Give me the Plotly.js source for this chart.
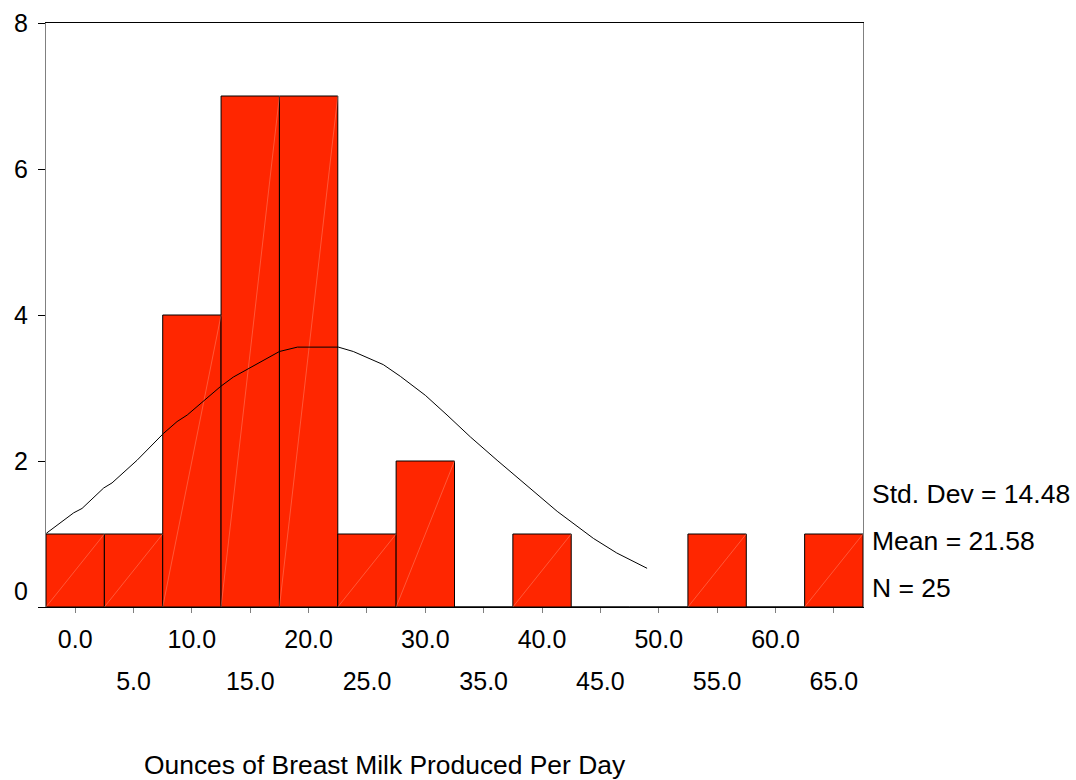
<!DOCTYPE html>
<html>
<head>
<meta charset="utf-8">
<script src="https://cdn.plot.ly/plotly-3.0.1.min.js"></script>
<style>html,body{margin:0;padding:0;background:#fff;}#chart{width:1076px;height:780px;}</style>
</head>
<body>
<div id="chart"></div>
<script>
// Histogram bins (centre of each 5-ounce bin) and counts
const binCenters = [0, 5, 10, 15, 20, 25, 30, 35, 40, 45, 50, 55, 60, 65];
const counts     = [1, 1, 4, 7, 7, 1, 2, 0, 1, 0, 0, 1, 0, 1];
const binWidth = 5;

// Tick labels
const evenTickVals = [0, 10, 20, 30, 40, 50, 60];
const evenTickText = ["0.0", "10.0", "20.0", "30.0", "40.0", "50.0", "60.0"];
const oddTickVals  = [5, 15, 25, 35, 45, 55, 65];
const oddTickText  = ["5.0", "15.0", "25.0", "35.0", "45.0", "55.0", "65.0"];
const yTickVals = [0, 2, 4, 6, 8];
const yTickText = ["0<br> ", "2", "4", "6", "8"];

// Normal curve
const curveX = [-2.47, -1.27, -0.13, 0.59, 2.44, 3.16, 5.30, 7.58, 8.73, 9.6, 11.4, 12.45, 13.55, 15.27, 17.5, 19.04, 22.55, 23.83, 26.4, 27.86, 30.0, 31.86, 33.86, 36.15, 38.4, 41.3, 44.4, 46.4, 49.0];
const curveY = [1.01, 1.15, 1.29, 1.35, 1.63, 1.70, 2.01, 2.38, 2.54, 2.63, 2.88, 3.02, 3.15, 3.30, 3.50, 3.56, 3.56, 3.50, 3.32, 3.16, 2.90, 2.63, 2.33, 2.01, 1.70, 1.31, 0.94, 0.74, 0.53];

// Summary statistics
const statsText = ["Std. Dev = 14.48", "Mean = 21.58", "N = 25"];
const xTitle = "Ounces of Breast Milk Produced Per Day";

const FONT = "Liberation Sans, Arial, Helvetica, sans-serif";

// diagonal hairline inside each bar (bottom-left to top-right)
const diagX = [], diagY = [];
binCenters.forEach((c, i) => {
  if (counts[i] > 0) {
    diagX.push(c - binWidth / 2, c + binWidth / 2, null);
    diagY.push(0, counts[i], null);
  }
});

const traces = [
  {
    type: "bar", x: binCenters, y: counts, width: binWidth,
    marker: { color: "#ff2600", line: { color: "#000000", width: 1 } },
    hoverinfo: "x+y", showlegend: false
  },
  {
    type: "scatter", mode: "lines", x: diagX, y: diagY,
    line: { color: "rgba(255,180,160,0.7)", width: 0.5 },
    hoverinfo: "skip", showlegend: false
  },
  {
    type: "scatter", mode: "lines", x: curveX, y: curveY,
    line: { color: "#000000", width: 1 },
    hoverinfo: "skip", showlegend: false
  },
  {
    type: "scatter", mode: "markers", x: oddTickVals, y: oddTickVals.map(() => 0),
    xaxis: "x2", marker: { opacity: 0 }, hoverinfo: "skip", showlegend: false
  }
];

const layout = {
  width: 1076, height: 780,
  margin: { l: 46, r: 213, t: 23, b: 173, pad: 0 },
  paper_bgcolor: "#ffffff", plot_bgcolor: "#ffffff",
  font: { family: FONT, color: "#000000", size: 25 },
  bargap: 0,
  showlegend: false,
  xaxis: {
    range: [-2.5, 67.5], tickmode: "array",
    tickvals: binCenters,
    ticktext: binCenters.map(v => { const k = evenTickVals.indexOf(v); return k >= 0 ? evenTickText[k] : ""; }),
    ticks: "outside", ticklen: 5, tickwidth: 1, tickcolor: "#808080",
    ticklabelstandoff: 5,
    tickfont: { family: FONT, size: 25, color: "#000000" },
    showline: true, linecolor: "#000000", linewidth: 1, mirror: true,
    showgrid: false, zeroline: false, fixedrange: true
  },
  xaxis2: {
    overlaying: "x", anchor: "y", side: "bottom",
    range: [-2.5, 67.5], tickmode: "array",
    tickvals: oddTickVals, ticktext: oddTickText,
    ticks: "", ticklabelstandoff: 57,
    tickfont: { family: FONT, size: 25, color: "#000000" },
    showline: false, showgrid: false, zeroline: false, fixedrange: true
  },
  yaxis: {
    range: [0, 8], tickmode: "array", tickvals: yTickVals, ticktext: yTickText,
    ticks: "outside", ticklen: 7, tickwidth: 1, tickcolor: "#000000",
    ticklabelstandoff: 5,
    tickfont: { family: FONT, size: 25, color: "#000000" },
    showline: true, linecolor: "#808080", linewidth: 1, mirror: true,
    showgrid: false, zeroline: false, fixedrange: true
  },
  annotations: [
    { xref: "paper", yref: "paper", x: 1.0086, y: (607 - 494) / 584, xanchor: "left", yanchor: "middle",
      text: statsText[0], showarrow: false, font: { family: FONT, size: 26.5, color: "#000000" } },
    { xref: "paper", yref: "paper", x: 1.0086, y: (607 - 541) / 584, xanchor: "left", yanchor: "middle",
      text: statsText[1], showarrow: false, font: { family: FONT, size: 26.5, color: "#000000" } },
    { xref: "paper", yref: "paper", x: 1.0086, y: (607 - 588) / 584, xanchor: "left", yanchor: "middle",
      text: statsText[2], showarrow: false, font: { family: FONT, size: 26.5, color: "#000000" } },
    { xref: "paper", yref: "paper", x: (385 - 46) / 817, y: (607 - 765) / 584, xanchor: "center", yanchor: "middle",
      text: xTitle, showarrow: false, font: { family: FONT, size: 26.4, color: "#000000" } }
  ]
};

Plotly.newPlot("chart", traces, layout, { displayModeBar: false, staticPlot: true });
</script>
</body>
</html>
